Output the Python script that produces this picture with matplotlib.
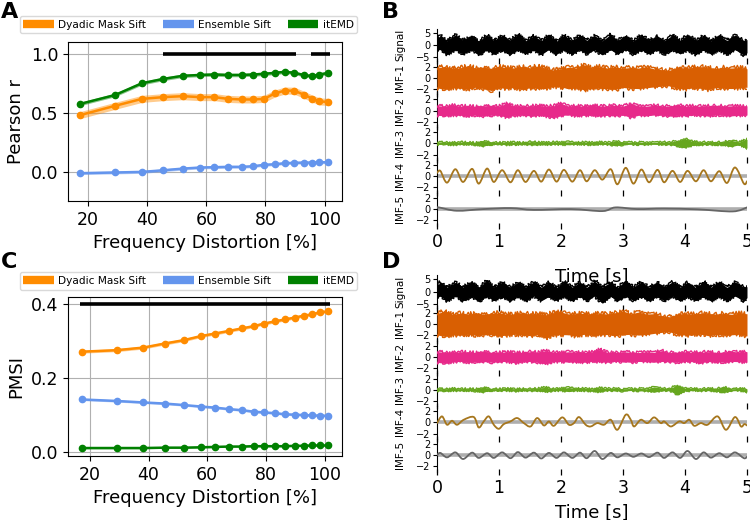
import numpy as np
import matplotlib
matplotlib.use('Agg')
import matplotlib.pyplot as plt
from matplotlib.lines import Line2D
from matplotlib.path import Path
from matplotlib.patches import PathPatch

# ---------------- data: panels A / C ----------------
freq = [17.4, 29.1, 38.2, 45.5, 52.0, 57.8, 62.7, 67.4, 72.0, 75.9, 79.5, 83.2,
        86.6, 89.8, 92.9, 95.8, 98.3, 101.3]
method_names = ["Dyadic Mask Sift", "Ensemble Sift", "itEMD"]
method_colors = ["darkorange", "cornflowerblue", "green"]

A_dyadic = [0.48, 0.558, 0.617, 0.632, 0.64, 0.632, 0.632, 0.617, 0.612, 0.612,
            0.617, 0.663, 0.688, 0.686, 0.654, 0.62, 0.595, 0.592]
A_ensemble = [-0.014, -0.008, -0.003, 0.011, 0.025, 0.034, 0.037, 0.04, 0.04, 0.045,
              0.057, 0.062, 0.071, 0.074, 0.076, 0.076, 0.079, 0.079]
A_itemd = [0.575, 0.65, 0.75, 0.787, 0.813, 0.82, 0.824, 0.82, 0.82, 0.824,
           0.83, 0.838, 0.847, 0.838, 0.82, 0.81, 0.824, 0.838]
A_err = [0.03, 0.012, 0.015]
A_sig_segments = [(45.4, 90.2), (95.5, 101.7)]
A_sig_level = 1.0

C_dyadic = [0.272, 0.276, 0.283, 0.294, 0.303, 0.314, 0.321, 0.328, 0.335, 0.341,
            0.348, 0.354, 0.359, 0.364, 0.369, 0.373, 0.378, 0.381]
C_ensemble = [0.143, 0.139, 0.135, 0.132, 0.128, 0.124, 0.121, 0.117, 0.114, 0.110,
              0.108, 0.106, 0.103, 0.102, 0.101, 0.100, 0.0995, 0.099]
C_itemd = [0.012, 0.012, 0.012, 0.013, 0.013, 0.014, 0.015, 0.016, 0.016, 0.017,
           0.017, 0.017, 0.017, 0.018, 0.018, 0.019, 0.019, 0.019]
C_err = [0.004, 0.003, 0.002]
C_sig_segments = [(16.8, 101.7)]
C_sig_level = 0.4

# ---------------- data: panels B / D ----------------
trace_names = ["Signal", "IMF-1", "IMF-2", "IMF-3", "IMF-4", "IMF-5"]
trace_colors = ["black", "#d95f02", "#e7298a", "#66a61e", "#a6761d", "#666666"]
time_ticks = [0, 1, 2, 3, 4, 5]

# times of the 4 Hz crests / troughs (start, 20 crest/trough pairs, end)
osc_t = [0.0, 0.054, 0.162, 0.296, 0.420, 0.566, 0.673, 0.808, 0.916, 1.051, 1.185,
         1.304, 1.428, 1.563, 1.681, 1.805, 1.929, 2.047, 2.182, 2.306, 2.414,
         2.543, 2.667, 2.802, 2.909, 3.044, 3.168, 3.297, 3.421, 3.556, 3.664,
         3.798, 3.922, 4.041, 4.176, 4.300, 4.418, 4.553, 4.677, 4.806, 4.950, 5.0]
# envelope sample times for the noisy IMFs
env_t = np.linspace(0, 5, 41)

# ---- panel B ----
B_sig_hi = [2.6, 3.9, 1.7, 4.1, 1.9, 3.7, 1.6, 4.0, 1.8, 3.8, 1.9, 4.4, 1.7, 3.7, 1.8,
            4.0, 1.6, 3.9, 1.8, 4.1, 1.9, 3.8, 1.7, 4.3, 1.8, 3.9, 1.6, 4.1, 1.8, 3.7,
            1.7, 4.0, 1.8, 4.1, 1.9, 3.8, 1.7, 3.9, 1.8, 4.1, 1.6, 2.2]
B_sig_lo = [-2.0, -1.9, -3.9, -2.0, -3.7, -1.8, -4.2, -1.9, -3.8, -2.0, -3.9, -1.9,
            -3.7, -2.0, -4.0, -1.8, -3.8, -1.9, -3.9, -1.9, -3.7, -2.0, -4.1, -1.9,
            -3.8, -1.8, -3.9, -2.0, -3.7, -1.9, -3.9, -1.9, -3.7, -2.0, -4.0, -1.8,
            -3.8, -2.0, -3.9, -1.9, -4.2, -3.2]
B_imf1_hi = [1.76, 2.0, 1.7, 1.8, 2.1, 1.75, 1.9, 1.7, 2.0, 1.85, 1.75, 2.0, 1.8, 2.1,
             1.75, 1.4, 1.6, 1.9, 1.75, 2.3, 1.8, 2.0, 1.75, 1.95, 1.7, 1.85, 1.75, 2.0,
             1.6, 1.45, 1.35, 1.9, 1.75, 1.85, 2.0, 1.8, 1.7, 1.85, 1.75, 1.85, 1.6]
B_imf1_lo = [-1.8, -2.1, -1.75, -1.9, -2.0, -1.7, -1.95, -2.3, -1.8, -1.9, -1.75, -2.1,
             -1.8, -1.9, -1.95, -1.55, -1.65, -2.0, -1.75, -2.2, -1.8, -1.9, -2.0,
             -2.1, -1.75, -1.9, -1.95, -1.8, -1.65, -1.5, -1.45, -1.9, -2.0, -1.8,
             -1.9, -2.1, -1.75, -1.9, -1.95, -1.8, -1.7]
B_imf2_hi = [0.85, 0.8, 1.0, 0.8, 0.85, 0.75, 0.85, 0.95, 0.8, 1.3, 0.8, 0.85, 0.8,
             0.95, 0.8, 0.85, 1.3, 0.8, 0.85, 0.8, 0.95, 0.8, 0.85, 1.0, 0.8, 1.3,
             0.85, 0.8, 0.95, 0.85, 0.8, 1.0, 0.8, 0.85, 0.8, 0.85, 0.95, 0.8, 0.85,
             0.8, 0.85]
B_imf2_lo = [-0.85, -0.95, -0.8, -0.85, -0.95, -0.8, -1.0, -0.85, -0.8, -1.2, -0.85,
             -0.8, -0.95, -0.85, -1.0, -1.3, -0.85, -0.8, -0.95, -0.85, -0.8, -1.0,
             -0.85, -0.95, -0.8, -1.2, -0.85, -0.95, -0.8, -0.85, -1.0, -0.85, -0.95,
             -0.8, -0.85, -0.95, -0.8, -0.85, -0.95, -0.85, -0.8]
B_imf3_hi = [0.2, 0.25, 0.15, 0.25, 0.2, 0.15, 0.45, 0.25, 0.15, 0.2, 0.25, 0.15, 0.3,
             0.25, 0.15, 0.25, 0.2, 0.3, 0.15, 0.25, 0.2, 0.25, 0.15, 0.4, 0.25, 0.2,
             0.25, 0.15, 0.2, 0.25, 0.25, 0.45, 0.85, 0.35, 0.25, 0.2, 0.25, 0.3, 0.55,
             0.25, 0.75]
B_imf3_lo = [-0.2, -0.15, -0.25, -0.2, -0.15, -0.25, -0.45, -0.2, -0.15, -0.25, -0.2,
             -0.15, -0.25, -0.2, -0.25, -0.15, -0.2, -0.25, -0.15, -0.2, -0.25, -0.15,
             -0.2, -0.4, -0.25, -0.15, -0.2, -0.25, -0.15, -0.25, -0.2, -0.45, -0.75,
             -0.35, -0.25, -0.2, -0.25, -0.25, -0.55, -0.25, -0.85]
B_imf4 = [0.6, 0.97, -1.15, 1.27, -1.03, 1.33, -1.33, 1.39, -1.03, 1.09, -1.09, 1.09,
          -1.03, 0.97, -0.97, 1.21, -0.97, 1.15, -0.97, 1.09, -0.91, 1.09, -0.61,
          1.27, -1.45, 1.52, -1.33, 1.21, -1.09, 1.15, -1.09, 0.97, -1.03, 0.97,
          -0.91, 1.09, -0.91, 0.91, -1.21, 1.58, -1.33, -0.9]
B_imf5_t = [0.0, 0.03, 0.32, 0.75, 1.19, 1.56, 2.16, 2.67, 2.88, 3.23, 3.66, 4.2, 4.77, 5.0]
B_imf5 = [0.2, 0.3, -0.3, 0.0, 0.18, -0.15, 0.0, -0.36, 0.3, 0.0, 0.1, -0.05, -0.42, 0.3]

# ---- panel D ----
D_sig_hi = [2.2, 4.0, 1.8, 3.8, 1.9, 4.1, 1.7, 4.6, 1.8, 3.9, 1.7, 3.7, 1.9, 4.0, 1.8,
            3.8, 1.6, 4.1, 1.8, 3.9, 1.7, 4.2, 1.9, 3.8, 1.6, 4.5, 1.8, 4.0, 1.7, 3.9,
            1.9, 4.0, 1.8, 3.8, 1.6, 4.1, 1.8, 3.9, 1.7, 4.0, 1.8, 2.0]
D_sig_lo = [-2.2, -1.9, -3.9, -1.8, -3.8, -2.0, -4.1, -1.9, -3.7, -2.0, -3.9, -1.9,
            -4.0, -1.8, -3.8, -2.0, -3.7, -1.9, -3.9, -1.9, -3.8, -1.8, -4.8, -2.0,
            -3.9, -1.9, -3.7, -2.0, -3.9, -1.9, -3.8, -1.8, -4.0, -2.0, -3.7, -1.9,
            -3.9, -1.9, -3.8, -1.8, -3.9, -2.5]
D_imf1_hi = [1.9, 2.4, 1.8, 2.0, 1.8, 2.0, 1.85, 1.95, 2.1, 1.8, 1.9, 2.05, 1.85, 1.95,
             1.7, 2.1, 2.2, 1.85, 1.9, 2.0, 1.8, 1.95, 1.85, 2.1, 2.4, 1.9, 2.2, 1.85,
             1.9, 1.55, 1.35, 1.8, 1.95, 1.8, 2.0, 1.9, 1.85, 1.95, 1.8, 2.0, 1.9]
D_imf1_lo = [-1.9, -2.2, -1.85, -2.0, -1.8, -1.95, -1.9, -1.85, -2.1, -1.95, -1.8,
             -1.9, -2.05, -1.85, -2.5, -1.95, -1.85, -1.9, -2.1, -1.8, -1.95, -1.9,
             -1.85, -2.05, -1.9, -1.8, -1.95, -1.85, -1.65, -1.45, -1.35, -1.8, -1.95,
             -1.9, -1.8, -2.0, -1.85, -1.95, -1.9, -1.8, -2.1]
D_imf2_hi = [0.95, 0.85, 0.8, 0.95, 0.85, 0.8, 1.05, 0.85, 0.8, 0.95, 0.85, 0.8,
             0.95, 0.85, 1.15, 0.85, 0.8, 0.95, 0.85, 0.8, 0.95, 1.35, 0.85, 0.8,
             0.95, 0.85, 0.8, 0.95, 0.85, 1.15, 0.8, 0.85, 0.95, 0.8, 0.85, 0.95, 0.8,
             0.85, 1.05, 0.85, 0.95]
D_imf2_lo = [-0.95, -1.15, -0.85, -0.8, -0.95, -0.85, -0.8, -0.95, -0.85, -0.8,
             -1.05, -0.85, -0.8, -0.95, -1.25, -0.85, -0.8, -0.95, -0.85, -0.95, -0.8,
             -0.85, -0.95, -0.8, -0.85, -0.95, -0.8, -0.85, -0.95, -0.8, -0.85, -0.95,
             -0.8, -0.85, -1.05, -0.8, -0.85, -0.95, -0.8, -0.85, -0.95]
D_imf3_hi = [0.2, 0.15, 0.25, 0.15, 0.2, 0.15, 0.45, 0.2, 0.15, 0.25, 0.15, 0.2, 0.15,
             0.25, 0.45, 0.15, 0.25, 0.4, 0.2, 0.25, 0.15, 0.35, 0.2, 0.25, 0.15, 0.2,
             0.25, 0.15, 0.5, 0.25, 0.2, 0.85, 0.25, 0.2, 0.15, 0.25, 0.2, 0.5, 0.15,
             0.2, 0.15]
D_imf3_lo = [-0.2, -0.25, -0.15, -0.2, -0.15, -0.25, -0.4, -0.15, -0.2, -0.15, -0.25,
             -0.15, -0.2, -0.15, -0.4, -0.2, -0.15, -0.35, -0.15, -0.2, -0.25, -0.4,
             -0.15, -0.2, -0.25, -0.15, -0.2, -0.25, -0.45, -0.2, -0.15, -0.85, -0.25,
             -0.15, -0.2, -0.15, -0.25, -0.45, -0.2, -0.15, -0.4]
D_imf4_t = [0.0, 0.081, 0.162, 0.242, 0.323, 0.431, 0.593, 0.673, 0.754, 0.835, 0.916,
            0.997, 1.078, 1.185, 1.293, 1.401, 1.509, 1.616, 1.724, 1.805, 1.886,
            2.020, 2.128, 2.209, 2.290, 2.398, 2.478, 2.586, 2.694, 2.802, 2.909,
            3.044, 3.125, 3.179, 3.287, 3.394, 3.502, 3.610, 3.664, 3.772, 3.906,
            3.987, 4.068, 4.149, 4.256, 4.364, 4.526, 4.661, 4.806, 4.903, 4.957, 5.0]
D_imf4 = [-0.12, 1.09, -0.42, 0.30, -0.42, 0.48, 0.97, -0.91, 0.18, 1.09, -0.42, -1.15,
          -0.30, 0.18, 0.79, -0.12, -0.73, 0.79, -0.55, 0.18, -0.61, 0.91, -0.42,
          -0.12, 0.97, -0.42, -0.73, -0.12, -0.42, 0.48, -1.33, 1.39, 0.48, -0.73,
          0.48, -0.12, 0.91, -0.12, 0.18, -0.73, 0.18, -0.12, 0.48, -0.61, -0.12,
          -0.42, 1.09, -1.33, 0.97, -0.73, -0.30, -0.55]
D_imf5 = [0.0, 0.4, -0.4, 0.5, -0.7, 0.45, -0.5, 0.35, -0.5, 0.5, -0.55, 0.55, -0.45,
          0.45, -0.6, 0.4, -0.5, 0.5, -0.5, 0.45, -0.55, 0.75, -0.7, 0.4, -0.4, 0.3,
          -0.3, 0.3, -0.35, 0.45, -0.5, 0.5, -0.5, 0.75, -0.7, 0.5, -0.45, 0.35, -0.4,
          0.5, -0.55, -0.3]

# ---------------- figure ----------------
W, H = 750, 520
fig = plt.figure(figsize=(7.5, 5.2), dpi=100)


def px_axes(l, t, r, b):
    return fig.add_axes([l / W, 1 - b / H, (r - l) / W, (b - t) / H])


def metric_panel(ax, series, errs, segs, level, ylabel, ylim, yticks, legend_y):
    for vals, err, col in zip(series, errs, method_colors):
        v = np.asarray(vals)
        ax.fill_between(freq, v - err, v + err, color=col, alpha=0.45, lw=0)
        ax.plot(freq, v, color=col, lw=1.8, marker='o', ms=4.5, zorder=3)
    for x0, x1 in segs:
        ax.plot([x0, x1], [level, level], color='black', lw=2.6, zorder=4,
                solid_capstyle='butt')
    ax.grid(True, color='#b0b0b0', lw=0.8)
    ax.set_axisbelow(True)
    if ylim is not None:
        ax.set_ylim(*ylim)
    ax.set_yticks(yticks)
    ax.set_xticks([20, 40, 60, 80, 100])
    ax.tick_params(labelsize=12.5)
    ax.set_xlabel("Frequency Distortion [%]", fontsize=13)
    ax.set_ylabel(ylabel, fontsize=13)
    handles = [Line2D([0], [0], color=c, lw=6, solid_capstyle='butt') for c in method_colors]
    fig.legend(handles, method_names, loc='center', ncol=3,
               bbox_to_anchor=(188.5 / W, 1 - legend_y / H), fontsize=7.6,
               handlelength=2.9, handletextpad=0.4, columnspacing=1.6,
               borderpad=0.35, frameon=True, fancybox=True, framealpha=0.8,
               edgecolor='#d0d0d0')


axA = px_axes(68, 42, 342, 201)
metric_panel(axA, [A_dyadic, A_ensemble, A_itemd], A_err, A_sig_segments, A_sig_level,
             "Pearson r", (-0.25, 1.1), [0.0, 0.5, 1.0], 24.5)
axC = px_axes(68, 297, 342, 456)
metric_panel(axC, [C_dyadic, C_ensemble, C_itemd], C_err, C_sig_segments, C_sig_level,
             "PMSI", None, [0.0, 0.2, 0.4], 281)


def smooth_line(ax, t, v, color, lw):
    p = np.column_stack([t, v]).astype(float)
    n = len(p)
    verts = [p[0]]
    codes = [Path.MOVETO]
    for i in range(n - 1):
        pm = p[i - 1] if i > 0 else p[i]
        pp = p[i + 2] if i + 2 < n else p[i + 1]
        c1 = p[i] + (p[i + 1] - pm) / 6.0
        c2 = p[i + 1] - (pp - p[i]) / 6.0
        verts += [c1, c2, p[i + 1]]
        codes += [Path.CURVE4] * 3
    ax.add_patch(PathPatch(Path(verts, codes), facecolor='none', edgecolor=color,
                           lw=lw, zorder=3, capstyle='round', joinstyle='round'))


def noisy_band(ax, t, lo, hi, color, rough):
    ax.fill_between(t, lo, hi, color=color, lw=0, zorder=3)
    for edge in (lo, hi):
        ln, = ax.plot(t, edge, color=color, lw=1.0, zorder=3)
        ln.set_sketch_params(scale=rough, length=1.6, randomness=2.5)


def trace_stack(top, bottom, d, xlabelpad):
    h = (bottom - top) / 6.0
    axes = []
    for i in range(6):
        ax = px_axes(437, top + i * h, 747, top + (i + 1) * h)
        axes.append(ax)
        ax.set_xlim(0, 5)
        ax.patch.set_alpha(0)
        for s in ['top', 'right', 'bottom']:
            ax.spines[s].set_visible(False)
        if i == 0:
            ax.set_ylim(-6.7, 6.7)
            ax.set_yticks([-5, 0, 5])
        else:
            ax.set_ylim(-2.95, 2.95)
            ax.set_yticks([-2, 0, 2])
        ax.tick_params(axis='y', labelsize=7, length=3, pad=1.5)
        ax.set_xticks(time_ticks)
        ax.tick_params(axis='x', direction='inout', length=4.5, width=0.9)
        if i < 5:
            ax.tick_params(axis='x', labelbottom=False)
        else:
            ax.tick_params(axis='x', labelsize=12.5, pad=3)
            ax.set_xlabel("Time [s]", fontsize=13, labelpad=xlabelpad)
        ax.set_ylabel(trace_names[i], fontsize=7.5, labelpad=8)
    noisy_band(axes[0], osc_t, d['sig_lo'], d['sig_hi'], trace_colors[0], 1.5)
    for k, key, r in zip([1, 2, 3], ['imf1', 'imf2', 'imf3'], [2.2, 1.6, 1.0]):
        noisy_band(axes[k], env_t, d[key + '_lo'], d[key + '_hi'], trace_colors[k], r)
    for k in [4, 5]:
        axes[k].axhline(0, color='#9a9a9a', lw=2.6, alpha=0.8, zorder=2)
    smooth_line(axes[4], d['imf4_t'], d['imf4'], trace_colors[4], 1.3)
    smooth_line(axes[5], d['imf5_t'], d['imf5'], trace_colors[5], 1.3)
    fig.align_ylabels(axes)
    return axes


trace_stack(28.5, 225.5, dict(sig_lo=B_sig_lo, sig_hi=B_sig_hi,
                              imf1_lo=B_imf1_lo, imf1_hi=B_imf1_hi,
                              imf2_lo=B_imf2_lo, imf2_hi=B_imf2_hi,
                              imf3_lo=B_imf3_lo, imf3_hi=B_imf3_hi,
                              imf4_t=osc_t, imf4=B_imf4,
                              imf5_t=B_imf5_t, imf5=B_imf5), 12)
trace_stack(275.2, 471.5, dict(sig_lo=D_sig_lo, sig_hi=D_sig_hi,
                               imf1_lo=D_imf1_lo, imf1_hi=D_imf1_hi,
                               imf2_lo=D_imf2_lo, imf2_hi=D_imf2_hi,
                               imf3_lo=D_imf3_lo, imf3_hi=D_imf3_hi,
                               imf4_t=D_imf4_t, imf4=D_imf4,
                               imf5_t=osc_t, imf5=D_imf5), 5)

for lab, x, y in [("A", 1, 2), ("B", 382, 2), ("C", 1, 252), ("D", 382, 252)]:
    fig.text(x / W, 1 - y / H, lab, fontsize=16, fontweight='bold', va='top', ha='left')

fig.savefig("out.png", dpi=100)
